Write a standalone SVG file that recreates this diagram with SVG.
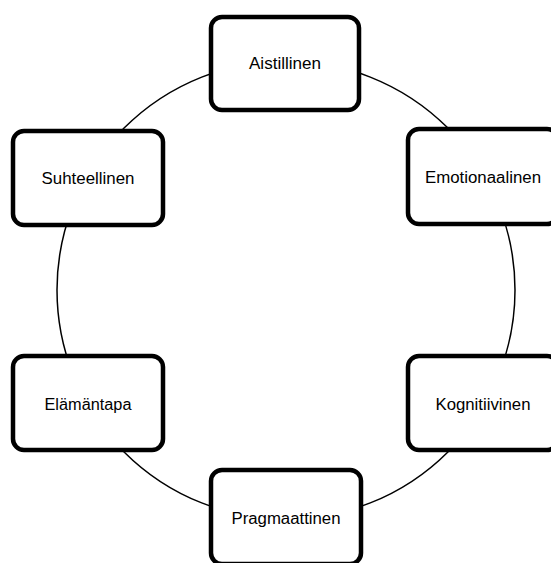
<svg xmlns="http://www.w3.org/2000/svg" width="551" height="563" viewBox="0 0 551 563">
  <style>
    .box { fill: #ffffff; stroke: #000000; stroke-width: 4.5; }
    .ring { fill: none; stroke: #000000; stroke-width: 1.5; }
    .label { font-family: "Liberation Sans", Arial, sans-serif; font-size: 16px; fill: #000000; text-anchor: middle; }
  </style>
  <rect width="551" height="563" fill="#ffffff"/>

  <!-- ring linking the six dimensions -->
  <g id="connectors">
    <circle class="ring" cx="286" cy="290" r="229"/>
  </g>

  <g id="aistillinen">
    <rect class="box" x="211" y="17" width="148" height="93" rx="11"/>
    <text class="label" x="285" y="69" textLength="72" lengthAdjust="spacingAndGlyphs">Aistillinen</text>
  </g>

  <g id="emotionaalinen">
    <rect class="box" x="408" y="129" width="150" height="95" rx="11"/>
    <text class="label" x="483" y="183" textLength="116" lengthAdjust="spacingAndGlyphs">Emotionaalinen</text>
  </g>

  <g id="kognitiivinen">
    <rect class="box" x="408" y="356" width="150" height="94" rx="11"/>
    <text class="label" x="483" y="410" textLength="95" lengthAdjust="spacingAndGlyphs">Kognitiivinen</text>
  </g>

  <g id="pragmaattinen">
    <rect class="box" x="211" y="470" width="150" height="94" rx="11"/>
    <text class="label" x="286" y="524" textLength="109" lengthAdjust="spacingAndGlyphs">Pragmaattinen</text>
  </g>

  <g id="elamantapa">
    <rect class="box" x="13" y="356" width="150" height="94" rx="11"/>
    <text class="label" x="88" y="410" textLength="87" lengthAdjust="spacingAndGlyphs">Elämäntapa</text>
  </g>

  <g id="suhteellinen">
    <rect class="box" x="13" y="131" width="150" height="94" rx="11"/>
    <text class="label" x="88" y="184" textLength="93" lengthAdjust="spacingAndGlyphs">Suhteellinen</text>
  </g>
</svg>
